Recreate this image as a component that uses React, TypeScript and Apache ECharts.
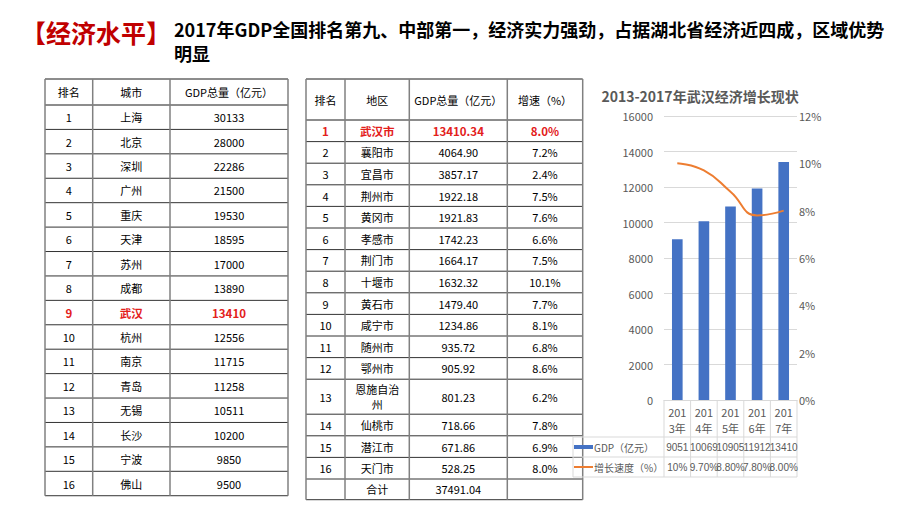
import React, { useEffect, useRef } from 'react';
import * as echarts from 'echarts';

const pageTitle = '【经济水平】';
const pageSubtitleLines = [
  '2017年GDP全国排名第九、中部第一，经济实力强劲，占据湖北省经济近四成，区域优势',
  '明显',
];

const nationalHeaders = ['排名', '城市', 'GDP总量（亿元）'];
const nationalCities = ['上海', '北京', '深圳', '广州', '重庆', '天津', '苏州', '成都', '武汉', '杭州', '南京', '青岛', '无锡', '长沙', '宁波', '佛山'];
const nationalGdp = [30133, 28000, 22286, 21500, 19530, 18595, 17000, 13890, 13410, 12556, 11715, 11258, 10511, 10200, 9850, 9500];
const nationalHighlightCity = '武汉';

const hubeiHeaders = ['排名', '地区', 'GDP总量（亿元）', '增速（%）'];
const hubeiRegions = ['武汉市', '襄阳市', '宜昌市', '荆州市', '黄冈市', '孝感市', '荆门市', '十堰市', '黄石市', '咸宁市', '随州市', '鄂州市', '恩施自治州', '仙桃市', '潜江市', '天门市'];
const hubeiGdp = ['13410.34', '4064.90', '3857.17', '1922.18', '1921.83', '1742.23', '1664.17', '1632.32', '1479.40', '1234.86', '935.72', '905.92', '801.23', '718.66', '671.86', '528.25'];
const hubeiGrowth = ['8.0%', '7.2%', '2.4%', '7.5%', '7.6%', '6.6%', '7.5%', '10.1%', '7.7%', '8.1%', '6.8%', '8.6%', '6.2%', '7.8%', '6.9%', '8.0%'];
const hubeiTotalLabel = '合计';
const hubeiTotalGdp = '37491.04';
const hubeiHighlightRegion = '武汉市';

const chartTitle = '2013-2017年武汉经济增长现状';
const years = ['2013年', '2014年', '2015年', '2016年', '2017年'];
const gdpName = 'GDP（亿元）';
const growthName = '增长速度（%）';
const wuhanGdp = [9051, 10069, 10905, 11912, 13410];
const wuhanGrowth = [10, 9.7, 8.8, 7.8, 8.0];
const wuhanGrowthLabels = ['10%', '9.70%', '8.80%', '7.80%', '8.00%'];

const FONT = '"Noto Sans CJK SC", "Noto Sans", sans-serif';
const RED = '#E3201B';
const GRAY_TEXT = '#595959';
const BLUE = '#4472C4';
const ORANGE = '#ED7D31';

type Cell = { text: string; hl?: boolean };

function txt(x: number, y: number, text: string, o: any = {}) {
  return {
    type: 'text',
    x,
    y,
    silent: true,
    style: {
      text,
      fill: o.color || '#000',
      fontSize: o.size || 11,
      fontWeight: o.bold ? 'bold' : 'normal',
      fontFamily: o.family || FONT,
      lineHeight: o.lineHeight,
      textAlign: o.align || 'center',
      textVerticalAlign: 'middle',
      align: o.align || 'center',
      verticalAlign: 'middle',
    },
  };
}

function ln(x1: number, y1: number, x2: number, y2: number, color: string, w: number) {
  return { type: 'line', silent: true, shape: { x1, y1, x2, y2 }, style: { stroke: color, lineWidth: w } };
}

function buildTable(colX: number[], rowY: number[], rows: Cell[][]) {
  const els: any[] = [];
  rows.forEach((row, r) => {
    const cy = (rowY[r] + rowY[r + 1]) / 2;
    row.forEach((cell, c) => {
      if (!cell.text) return;
      const cx = (colX[c] + colX[c + 1]) / 2;
      els.push(
        txt(cx, cy, cell.text, {
          color: cell.hl ? RED : '#000',
          bold: cell.hl,
          size: cell.hl ? 11.5 : 11,
          lineHeight: 15,
        })
      );
    });
  });
  rowY.forEach((y, i) => {
    els.push(ln(colX[0], y, colX[colX.length - 1], y, i === 0 || i === 1 ? '#1a1a1a' : '#333', 1));
  });
  colX.forEach((x) => {
    els.push(ln(x, rowY[0], x, rowY[rowY.length - 1], '#808080', 1.5));
  });
  return els;
}

function wrapName(s: string, n: number) {
  return s.length > n ? s.slice(0, n) + '\n' + s.slice(n) : s;
}

export default function App() {
  const ref = useRef<HTMLDivElement>(null);

  useEffect(() => {
    if (!ref.current) return;
    const chart = echarts.init(ref.current, undefined, { renderer: 'svg' });

    const gridLeft = 664;
    const gridRight = 797;
    const gridTop = 116;
    const gridBottom = 400;

    chart.setOption({
      animation: false,
      textStyle: { fontFamily: FONT },
      title: {
        text: chartTitle,
        left: 695,
        top: 84,
        textAlign: 'center',
        textStyle: { fontSize: 14, fontWeight: 'bold', color: GRAY_TEXT, fontFamily: FONT },
      },
      grid: { left: gridLeft, top: gridTop, width: gridRight - gridLeft, height: gridBottom - gridTop },
      xAxis: {
        type: 'category',
        data: years,
        axisTick: { show: false },
        axisLine: { lineStyle: { color: '#D9D9D9' } },
        axisLabel: {
          color: GRAY_TEXT,
          fontSize: 11,
          lineHeight: 16,
          margin: 4,
          formatter: (v: string) => v.slice(0, 3) + '\n' + v.slice(3),
        },
      },
      yAxis: [
        {
          type: 'value',
          min: 0,
          max: 16000,
          interval: 2000,
          axisLine: { show: false },
          axisTick: { show: false },
          splitLine: { lineStyle: { color: '#D9D9D9' } },
          axisLabel: { color: GRAY_TEXT, fontSize: 11, margin: 11, formatter: (v: number) => String(v) },
        },
        {
          type: 'value',
          min: 0,
          max: 12,
          interval: 2,
          axisLine: { show: false },
          axisTick: { show: false },
          splitLine: { show: false },
          axisLabel: { color: GRAY_TEXT, fontSize: 11, margin: 2, formatter: '{value}%' },
        },
      ],
      series: [
        {
          name: gdpName,
          type: 'bar',
          data: wuhanGdp,
          barWidth: '40%',
          itemStyle: { color: BLUE },
        },
        {
          name: growthName,
          type: 'line',
          yAxisIndex: 1,
          data: wuhanGrowth,
          smooth: true,
          showSymbol: false,
          lineStyle: { color: ORANGE, width: 2 },
          itemStyle: { color: ORANGE },
        },
      ],
    });

    const graphic: any[] = [];

    // page title
    graphic.push(txt(21, 32, pageTitle, { color: '#C00000', size: 25, bold: true, align: 'left' }));
    pageSubtitleLines.forEach((line, i) => {
      graphic.push(txt(174, 29 + i * 24, line, { color: '#000', size: 18, bold: true, align: 'left', lineHeight: 20 }));
    });

    // national table
    const nColX = [45, 92.7, 170, 288];
    const nRowY = [79, 105];
    nationalCities.forEach(() => nRowY.push(nRowY[nRowY.length - 1] + 24.42));
    const nRows: Cell[][] = [nationalHeaders.map((h) => ({ text: h }))];
    nationalCities.forEach((c, i) => {
      const hl = c === nationalHighlightCity;
      nRows.push([{ text: String(i + 1), hl }, { text: c, hl }, { text: String(nationalGdp[i]), hl }]);
    });
    graphic.push(...buildTable(nColX, nRowY, nRows));

    // hubei table
    const hColX = [306, 345, 409.3, 507.3, 582.7];
    const hRowY = [79, 120];
    hubeiRegions.forEach((r) => hRowY.push(hRowY[hRowY.length - 1] + (r.length > 4 ? 35 : 21.6)));
    hRowY.push(hRowY[hRowY.length - 1] + 20.7);
    const hRows: Cell[][] = [hubeiHeaders.map((h) => ({ text: h }))];
    hubeiRegions.forEach((r, i) => {
      const hl = r === hubeiHighlightRegion;
      hRows.push([
        { text: String(i + 1), hl },
        { text: wrapName(r, 4), hl },
        { text: hubeiGdp[i], hl },
        { text: hubeiGrowth[i], hl },
      ]);
    });
    hRows.push([{ text: '' }, { text: hubeiTotalLabel }, { text: hubeiTotalGdp }, { text: '' }]);
    graphic.push(...buildTable(hColX, hRowY, hRows));

    // chart data table
    const centers = years.map((y) => (chart.convertToPixel({ xAxisIndex: 0 }, y) as unknown) as number);
    const band = centers.length > 1 ? centers[1] - centers[0] : gridRight - gridLeft;
    const tLeft = 573;
    const tRight = centers[centers.length - 1] + band / 2;
    const rowBounds = [gridBottom, 437, 457, 477];
    const lineColor = '#D9D9D9';
    [rowBounds[1], rowBounds[2], rowBounds[3]].forEach((y) => graphic.push(ln(tLeft, y, tRight, y, lineColor, 1)));
    graphic.push(ln(tLeft, rowBounds[1], tLeft, rowBounds[3], lineColor, 1));
    const numFamily = '"Liberation Sans Narrow", "Liberation Sans", sans-serif';
    centers.forEach((c, i) => {
      if (i === 0) graphic.push(ln(c - band / 2, rowBounds[0], c - band / 2, rowBounds[3], lineColor, 1));
      graphic.push(ln(c + band / 2, rowBounds[0], c + band / 2, rowBounds[3], lineColor, 1));
      const y1 = (rowBounds[1] + rowBounds[2]) / 2;
      const y2 = (rowBounds[2] + rowBounds[3]) / 2;
      graphic.push(txt(c, y1, String(wuhanGdp[i]), { color: GRAY_TEXT, size: 10, family: numFamily }));
      graphic.push(txt(c, y2, wuhanGrowthLabels[i], { color: GRAY_TEXT, size: 10, family: numFamily }));
    });
    const ly1 = (rowBounds[1] + rowBounds[2]) / 2;
    const ly2 = (rowBounds[2] + rowBounds[3]) / 2;
    graphic.push({ type: 'rect', silent: true, shape: { x: 574, y: ly1 - 2, width: 19, height: 4 }, style: { fill: BLUE } });
    graphic.push(txt(594, ly1, gdpName, { color: GRAY_TEXT, size: 10, align: 'left' }));
    graphic.push(ln(574, ly2, 593, ly2, ORANGE, 2));
    graphic.push(txt(594, ly2, growthName, { color: GRAY_TEXT, size: 10, align: 'left' }));

    chart.setOption({ graphic });

    return () => chart.dispose();
  }, []);

  return (
    <div
      ref={ref}
      style={{ position: 'absolute', left: 0, top: 0, width: 920, height: 517, background: '#fff' }}
    />
  );
}
